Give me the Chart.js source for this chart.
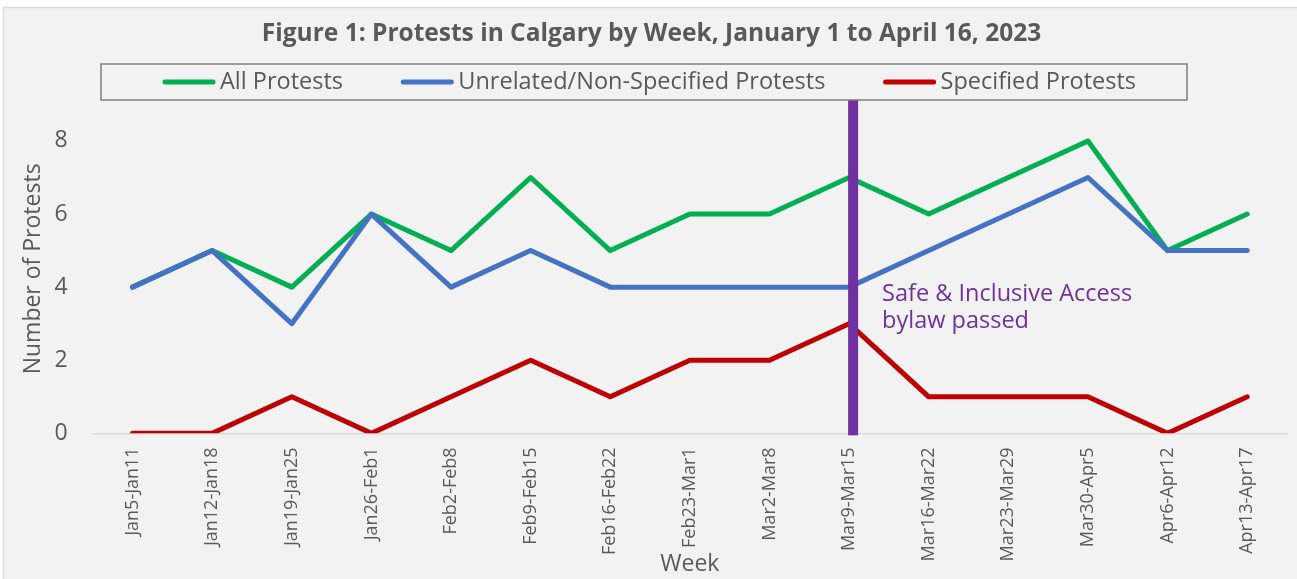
<!DOCTYPE html>
<html>
<head>
<meta charset="utf-8">
<script src="https://cdn.jsdelivr.net/npm/chart.js@4.4.0/dist/chart.umd.min.js"></script>
<style>
  html, body { margin: 0; padding: 0; background: #fff; }
  #wrap { width: 1297px; height: 579px; }
</style>
</head>
<body>
<div id="wrap"><canvas id="protestChart"></canvas></div>
<script>
// weekly counts
const weeks = ["Jan5-Jan11", "Jan12-Jan18", "Jan19-Jan25", "Jan26-Feb1", "Feb2-Feb8",
  "Feb9-Feb15", "Feb16-Feb22", "Feb23-Mar1", "Mar2-Mar8", "Mar9-Mar15",
  "Mar16-Mar22", "Mar23-Mar29", "Mar30-Apr5", "Apr6-Apr12", "Apr13-Apr17"];
const allProtests = [4, 5, 4, 6, 5, 7, 5, 6, 6, 7, 6, 7, 8, 5, 6];
const unrelatedProtests = [4, 5, 3, 6, 4, 5, 4, 4, 4, 4, 5, 6, 7, 5, 5];
const specifiedProtests = [0, 0, 1, 0, 1, 2, 1, 2, 2, 3, 1, 1, 1, 0, 1];
const yTicks = [0, 2, 4, 6, 8];
const bylawWeek = "Mar9-Mar15";
const bylawNote = ["Safe & Inclusive Access", "bylaw passed"];

const textGrey = "#595959";
const sans = "'Open Sans', sans-serif";

// grey panel with thin frame
const panelBg = {
  id: "panelBg",
  beforeDraw(chart) {
    const ctx = chart.ctx;
    ctx.save();
    ctx.fillStyle = "#fff";
    ctx.fillRect(0, 0, chart.width, chart.height);
    ctx.fillStyle = "#f2f2f2";
    ctx.fillRect(3, 7, chart.width, chart.height);
    ctx.strokeStyle = "#d9d9d9";
    ctx.lineWidth = 1.5;
    ctx.strokeRect(3.5, 7.5, chart.width, chart.height);
    ctx.restore();
  }
};

// boxed legend like the excel one
const boxLegend = {
  id: "boxLegend",
  afterDraw(chart) {
    const ctx = chart.ctx;
    const left = 101, right = 1187, top = 64, bottom = 100;
    const padL = 62, padR = 51, lineLen = 52, textGap = 5;
    const sets = chart.data.datasets;
    ctx.save();
    ctx.strokeStyle = "#7f7f7f";
    ctx.lineWidth = 1.5;
    ctx.strokeRect(left, top, right - left, bottom - top);
    ctx.font = "23.5px " + sans;
    const widths = sets.map(d => lineLen + textGap + ctx.measureText(d.label).width);
    const used = widths.reduce((a, b) => a + b, 0);
    const gap = (right - left - padL - padR - used) / (sets.length - 1);
    const cy = (top + bottom) / 2;
    let x = left + padL;
    sets.forEach((d, i) => {
      ctx.strokeStyle = d.borderColor;
      ctx.lineWidth = 5;
      ctx.lineCap = "round";
      ctx.beginPath();
      ctx.moveTo(x + 2, cy);
      ctx.lineTo(x + lineLen - 2, cy);
      ctx.stroke();
      ctx.fillStyle = textGrey;
      ctx.textBaseline = "middle";
      ctx.textAlign = "left";
      ctx.fillText(d.label, x + lineLen + textGap, cy);
      x += widths[i] + gap;
    });
    ctx.restore();
  }
};

// purple marker for the bylaw week
const bylawMarker = {
  id: "bylawMarker",
  afterDatasetsDraw(chart) {
    const ctx = chart.ctx;
    const xs = chart.scales.x, ys = chart.scales.y;
    const x = xs.getPixelForValue(weeks.indexOf(bylawWeek)) + 4;
    ctx.save();
    ctx.fillStyle = "#7030a0";
    ctx.fillRect(x - 5, 100, 10, chart.chartArea.bottom + 2 - 100);
    ctx.font = "23.5px " + sans;
    ctx.textBaseline = "middle";
    ctx.textAlign = "left";
    const y0 = ys.getPixelForValue(3.8);
    bylawNote.forEach((t, i) => ctx.fillText(t, x + 29, y0 + i * 27));
    ctx.restore();
  }
};

new Chart(document.getElementById("protestChart"), {
  type: "line",
  data: {
    labels: weeks,
    datasets: [
      { label: "All Protests", data: allProtests, borderColor: "#00b050", order: 1 },
      { label: "Unrelated/Non-Specified Protests", data: unrelatedProtests, borderColor: "#4472c4", order: 0 },
      { label: "Specified Protests", data: specifiedProtests, borderColor: "#c00000", order: 2 }
    ]
  },
  options: {
    responsive: true,
    maintainAspectRatio: false,
    animation: false,
    devicePixelRatio: 1,
    layout: { padding: { left: 16, right: 10, top: 0, bottom: 0 } },
    elements: {
      line: { borderWidth: 5, tension: 0, borderJoinStyle: "round", borderCapStyle: "round", fill: false },
      point: { radius: 0, hoverRadius: 0 }
    },
    plugins: {
      legend: { display: false },
      tooltip: { enabled: false },
      title: {
        display: true,
        text: "Figure 1: Protests in Calgary by Week, January 1 to April 16, 2023",
        color: textGrey,
        font: { family: sans, size: 24.5, weight: "bold" },
        padding: { top: 19, bottom: 56 }
      }
    },
    scales: {
      x: {
        offset: true,
        grid: { display: false, drawTicks: false },
        border: { display: true, color: "#d9d9d9", width: 1.5 },
        ticks: {
          autoSkip: false, minRotation: 90, maxRotation: 90, padding: 14,
          color: textGrey, font: { family: sans, size: 18 }
        },
        title: {
          display: true, text: "Week", color: textGrey,
          font: { family: sans, size: 23 },
          padding: { top: -25, bottom: 1 }
        }
      },
      y: {
        min: 0,
        max: 9,
        afterBuildTicks(scale) { scale.ticks = yTicks.map(v => ({ value: v })); },
        grid: { display: false, drawTicks: false },
        border: { display: false },
        ticks: { padding: 25, color: textGrey, font: { family: sans, size: 23 } },
        title: {
          display: true, text: "Number of Protests", color: textGrey,
          font: { family: sans, size: 23 },
          padding: { top: 4, bottom: -18 }
        }
      }
    }
  },
  plugins: [panelBg, boxLegend, bylawMarker]
});
</script>
</body>
</html>
